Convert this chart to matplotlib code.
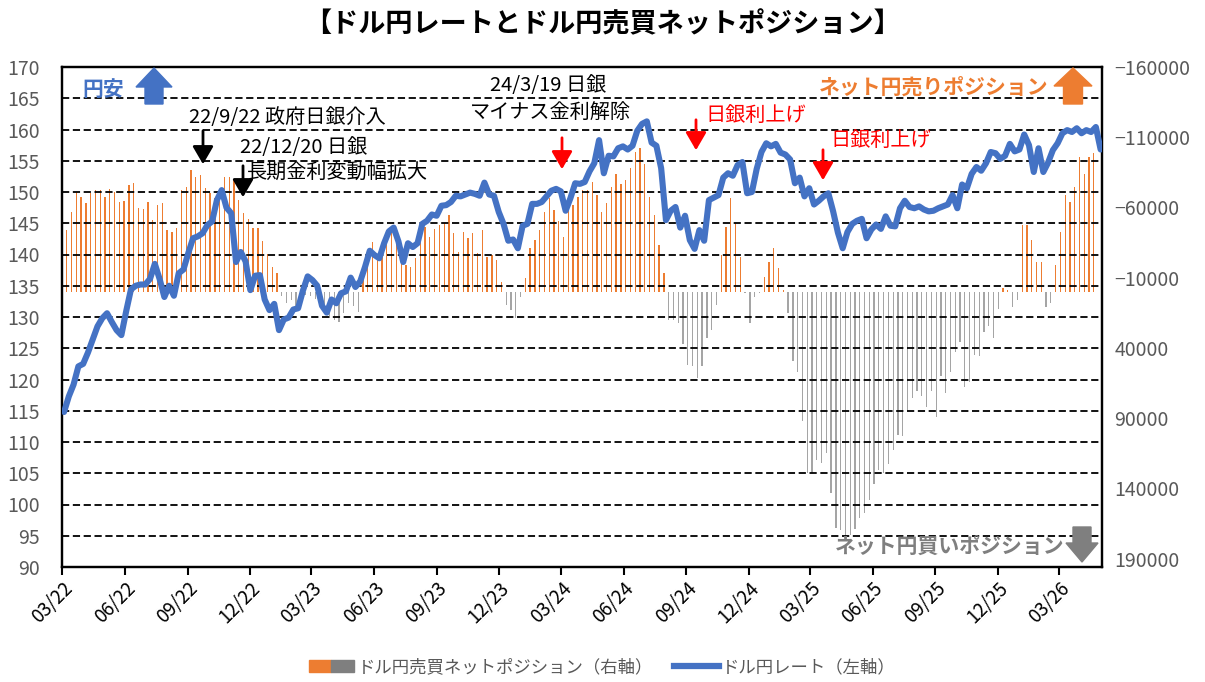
import numpy as np
import pandas as pd
import matplotlib
matplotlib.use('Agg')
import matplotlib.pyplot as plt
import matplotlib.dates as mdates
from matplotlib.patches import Patch, Polygon
from matplotlib.lines import Line2D
from matplotlib.legend_handler import HandlerTuple

plt.rcParams['font.family'] = ['Noto Sans CJK JP', 'DejaVu Sans']

# weekly USD/JPY close (Fridays), from 2022-03-04
rate_start = '2022-03-04'
usdjpy = [
    # 2022
    114.8, 117.3, 119.2, 122.1, 122.5, 124.3, 126.4, 128.5, 129.8, 130.6,
    129.2, 127.9, 127.1, 130.9, 134.4, 135.0, 135.2, 135.2, 136.1, 138.5,
    136.1, 133.2, 135.0, 133.4, 137.0, 137.6, 140.2, 142.6, 142.9, 143.4,
    144.7, 145.3, 148.7, 150.3, 147.5, 146.6, 138.8, 140.4, 138.9, 134.3,
    136.6, 136.7, 132.8, 131.1,
    # 2023
    132.1, 127.9, 129.6, 129.9, 131.2, 131.4, 134.2, 136.5, 135.9, 135.0,
    131.8, 130.7, 132.8, 132.2, 133.8, 134.1, 136.3, 134.8, 135.7, 138.0,
    140.6, 139.9, 139.4, 141.8, 143.7, 144.3, 142.1, 138.8, 141.8, 141.2,
    141.8, 144.9, 145.4, 146.4, 146.2, 147.8, 147.9, 148.4, 149.4, 149.3,
    149.6, 149.9, 149.7, 149.4, 151.5, 149.6, 149.4, 146.8, 144.9, 142.2,
    142.4, 141.0,
    # 2024
    144.6, 144.9, 148.1, 148.1, 148.4, 149.3, 150.2, 150.5, 150.1, 147.0,
    149.0, 151.4, 151.3, 151.6, 153.3, 154.6, 158.3, 153.0, 155.8, 155.7,
    157.0, 157.3, 156.8, 157.4, 159.8, 160.9, 161.3, 157.9, 157.4, 153.8,
    145.5, 147.0, 147.6, 144.3, 146.2, 142.3, 140.9, 143.9, 142.2, 148.7,
    149.1, 149.5, 152.3, 153.0, 152.6, 154.3, 154.8, 149.8, 150.0, 153.7,
    156.4, 157.8,
    # 2025
    157.3, 157.7, 156.3, 156.0, 155.2, 151.4, 152.3, 149.3, 150.6, 148.0,
    148.6, 149.3, 149.8, 146.9, 143.5, 141.0, 143.6, 144.9, 145.4, 145.7,
    142.6, 144.0, 144.8, 144.1, 146.1, 144.6, 144.5, 147.4, 148.6, 147.6,
    147.4, 147.7, 147.2, 146.9, 147.0, 147.4, 147.7, 148.0, 149.5, 147.4,
    151.2, 150.6, 152.9, 154.0, 153.4, 154.6, 156.4, 156.2, 155.3, 155.8,
    157.7, 156.5,
    # 2026
    156.8, 159.2, 157.5, 153.2, 157.0, 153.2, 154.7, 156.7, 157.8, 159.4,
    159.9, 159.6, 160.2, 159.4, 159.9, 159.6, 160.4, 156.8,
]

# weekly net yen position (Tuesdays), from 2022-03-01; negative = net yen short
pos_start = '2022-03-01'
net_pos = [
    # 2022
    -42700, -43900, -57000, -71200, -67600, -62900, -70000, -72400, -72400, -67600,
    -72900, -71200, -64100, -64800, -76000, -77200, -59400, -58700, -64100, -51100,
    -61700, -63400, -43900, -42700, -45100, -72400, -74800, -86700, -81900, -83100,
    -73600, -70500, -66500, -70500, -81900, -81500, -79500, -65300, -55800, -51500,
    -45100, -45100, -36300, -26800,
    # 2023
    -17800, -13100, 3000, 8000, 6000, 10700, 5000, 2000, 3000, 5000,
    8000, 12000, 18800, 20200, 21400, 15300, 8000, 10000, 14200, -9700,
    -20400, -35600, -24900, -32000, -39200, -45000, -40000, -30000, -19000, -17800,
    -24000, -45000, -46000, -39000, -45000, -47500, -49000, -54600, -41600, -28500,
    -42700, -38000, -41600, -27500, -44000, -25000, -26000, -22600, -7000, 9500,
    13000, 19000,
    # 2024
    3500, -9700, -31000, -37000, -44000, -57000, -66700, -58000, -50000, -39000,
    -63000, -62000, -67600, -72400, -72400, -78000, -69000, -57000, -63000, -74800,
    -84000, -77000, -79500, -88000, -99700, -102000, -91000, -67600, -54600, -33000,
    -13000, 20000, 20000, 22500, 37000, 52000, 53000, 61700, 53000, 33000,
    27000, 9500, -26000, -46000, -66500, -48700, -25000, 1000, 22500, 3500,
    1000, -10700,
    # 2025
    -21000, -31000, -16600, -1000, 15400, 49000, 57000, 92000, 129000, 129000,
    120000, 122000, 115000, 143500, 168500, 170000, 174400, 173000, 169000, 161000,
    157600, 148000, 137000, 127000, 129000, 123000, 112700, 102000, 103000, 85000,
    76000, 71000, 74000, 82000, 71000, 89000, 60000, 72000, 57000, 42700,
    35500, 67600, 64000, 45000, 46000, 29000, 24400, 33000, 12000, -3000,
    -1000, 10700,
    # 2026
    6000, -47500, -47500, -36800, -21400, -21400, 10700, 8300, -19000, -42700,
    -68800, -64000, -74800, -96000, -84000, -96000, -98500,
]

rate_dates = pd.date_range(rate_start, periods=len(usdjpy), freq='7D')
pos_dates = pd.date_range(pos_start, periods=len(net_pos), freq='7D')

BLUE = '#4472C4'
ORANGE = '#ED7D31'
GRAY = '#A5A5A5'
TXT = '#595959'
W, H = 1205, 682

fig = plt.figure(figsize=(W / 100, H / 100), dpi=100)
ax = fig.add_axes([62 / W, 1 - 567 / H, 1040 / W, 500 / H])
ax2 = ax.twinx()

# bars (right axis, inverted)
bar_colors = [ORANGE if v < 0 else GRAY for v in net_pos]
ax2.bar(pos_dates, net_pos, width=1.9, color=bar_colors, linewidth=0)
ax2.set_ylim(196000, -160000)
ax2.set_yticks(np.arange(-160000, 190001, 50000))
ax2.tick_params(axis='y', length=0, pad=9, labelsize=14, labelcolor=TXT)

# line (left axis)
ax.set_zorder(ax2.get_zorder() + 1)
ax.patch.set_visible(False)
ax.plot(rate_dates, usdjpy, color=BLUE, lw=4.4, solid_joinstyle='round', solid_capstyle='round', zorder=5)
ax.set_ylim(90, 170)
ax.set_yticks(np.arange(90, 171, 5))
ax.yaxis.grid(True, color='black', linestyle=(0, (4, 2)), linewidth=1.3)
ax.tick_params(axis='y', length=0, pad=16, labelsize=14, labelcolor=TXT)

ax.set_xlim(pd.Timestamp('2022-03-01'), pd.Timestamp('2026-05-03'))
ax.xaxis.set_major_locator(mdates.MonthLocator(bymonth=[3, 6, 9, 12]))
ax.xaxis.set_major_formatter(mdates.DateFormatter('%m/%y'))
ax.tick_params(axis='x', direction='out', length=6, width=1.5, color='black',
               labelsize=13.5, labelcolor='black', pad=2)
for lab in ax.get_xticklabels():
    lab.set_rotation(45)
    lab.set_ha('right')
    lab.set_rotation_mode('anchor')

for a in (ax, ax2):
    for s in a.spines.values():
        s.set_color('black')
        s.set_linewidth(1.6)


def fx(x):
    return x / W


def fy(y):
    return 1 - y / H


# title
fig.text(0.5, fy(24), '【ドル円レートとドル円売買ネットポジション】', ha='center', va='center',
         fontsize=19.5, fontweight='bold')

# block arrows
def block_arrow(cx, y_tip, y_base, y_tail, head_w, shaft_w, color):
    pts = [(cx, y_tip), (cx + head_w / 2, y_base), (cx + shaft_w / 2, y_base),
           (cx + shaft_w / 2, y_tail), (cx - shaft_w / 2, y_tail),
           (cx - shaft_w / 2, y_base), (cx - head_w / 2, y_base)]
    fig.add_artist(Polygon([(fx(a), fy(b)) for a, b in pts], closed=True,
                           transform=fig.transFigure, color=color, zorder=10))


block_arrow(154, 68, 87, 104, 36, 18, BLUE)
block_arrow(1073, 68, 86, 104, 38, 19, ORANGE)
block_arrow(1082, 562, 543, 527, 32, 18, '#7F7F7F')

fig.text(fx(82), fy(90), '円安', color=BLUE, fontsize=15, fontweight='bold', va='center')
fig.text(fx(1048), fy(87), 'ネット円売りポジション', color=ORANGE, fontsize=15,
         fontweight='bold', va='center', ha='right')
fig.text(fx(1064), fy(546), 'ネット円買いポジション', color='#7F7F7F', fontsize=15,
         fontweight='bold', va='center', ha='right')

# event notes
fig.text(fx(189), fy(118), '22/9/22 政府日銀介入', fontsize=14.5, va='center')
fig.text(fx(240), fy(147), '22/12/20 日銀', fontsize=14.5, va='center')
fig.text(fx(247), fy(172), '長期金利変動幅拡大', fontsize=14.5, va='center')
fig.text(fx(490), fy(85), '24/3/19 日銀', fontsize=14.5, va='center')
fig.text(fx(470), fy(112), 'マイナス金利解除', fontsize=14.5, va='center')
fig.text(fx(705), fy(115), '日銀利上げ', fontsize=14.5, va='center', color='red')
fig.text(fx(830), fy(140), '日銀利上げ', fontsize=14.5, va='center', color='red')


def note_arrow(x, y0, y1, color):
    fig.add_artist(matplotlib.patches.FancyArrowPatch(
        (fx(x), fy(y0)), (fx(x), fy(y1)), transform=fig.transFigure,
        arrowstyle='-|>,head_length=0.6,head_width=0.35', mutation_scale=18,
        color=color, lw=2, zorder=10))


note_arrow(203, 128, 167, 'black')
note_arrow(243, 163, 200, 'black')
note_arrow(562, 135, 172, 'red')
note_arrow(696, 117, 153, 'red')
note_arrow(823, 147, 183, 'red')

# legend
h_bar = (Patch(color=ORANGE), Patch(color='#7F7F7F'))
h_line = Line2D([], [], color=BLUE, lw=4.5)
fig.legend([h_bar, h_line], ['ドル円売買ネットポジション（右軸）', 'ドル円レート（左軸）'],
           handler_map={tuple: HandlerTuple(ndivide=None, pad=0)},
           loc='center', bbox_to_anchor=(0.5, fy(667)), ncol=2, frameon=False,
           fontsize=12.5, handlelength=2.6, handletextpad=0.2, columnspacing=1.2,
           labelcolor=TXT)

fig.savefig('out.png', dpi=100)
